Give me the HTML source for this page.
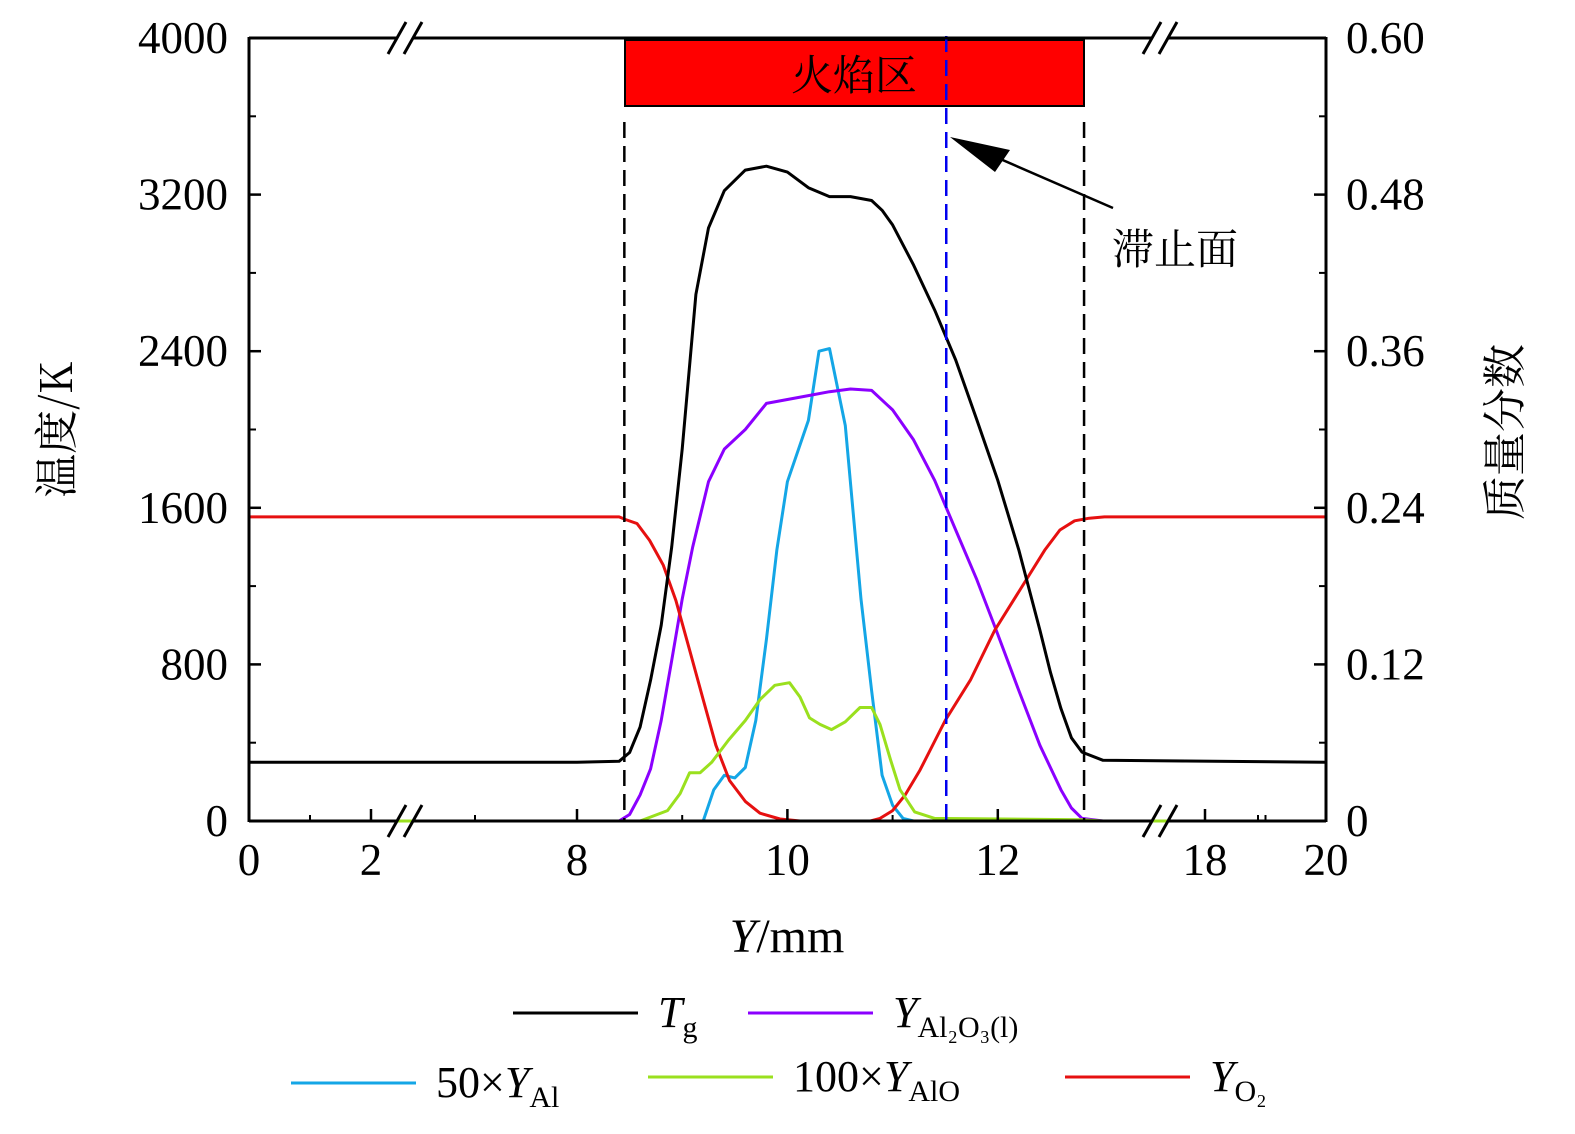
<!DOCTYPE html>
<html><head><meta charset="utf-8"><style>
body{margin:0;background:#fff;overflow:hidden;}
svg{display:block;font-family:"Liberation Serif","Noto Serif CJK SC",serif;}
</style></head><body>
<svg id="chart" width="1575" height="1134" viewBox="0 0 1575 1134">
<rect x="625" y="40" width="459" height="66" fill="#ff0000" stroke="#000" stroke-width="2"/>
<text x="854" y="90" font-size="42" text-anchor="middle" font-family="Noto Serif CJK SC,serif">火焰区</text>
<g id="marks"></g>
<g id="axes"></g>
<text x="1175" y="264" font-size="42" text-anchor="middle" font-family="Noto Serif CJK SC,serif">滞止面</text>
<line x1="1113" y1="208" x2="975" y2="148" stroke="#000" stroke-width="2.5"/>
<polygon points="950,137 1010,150 995,172" fill="#000"/>
<text x="787" y="952" font-size="48" text-anchor="middle"><tspan font-style="italic">Y</tspan>/mm</text>
<text transform="translate(72,430) rotate(-90)" font-size="44" text-anchor="middle" font-family="Noto Serif CJK SC,serif">温度/K</text>
<text transform="translate(1520,432) rotate(-90)" font-size="44" text-anchor="middle" font-family="Noto Serif CJK SC,serif">质量分数</text>
<g>
<line x1="513" y1="1013" x2="638" y2="1013" stroke="#000" stroke-width="3"/>
<text x="658" y="1027" font-size="44"><tspan font-style="italic">T</tspan><tspan font-size="30" dy="10">g</tspan></text>
<line x1="748" y1="1013" x2="873" y2="1013" stroke="#8b00ff" stroke-width="3"/>
<text x="893" y="1027" font-size="44"><tspan font-style="italic">Y</tspan><tspan font-size="30" dy="10">Al₂O₃(l)</tspan></text>
<line x1="291" y1="1083" x2="416" y2="1083" stroke="#14a6e6" stroke-width="3"/>
<text x="436" y="1097" font-size="44">50×<tspan font-style="italic">Y</tspan><tspan font-size="30" dy="10">Al</tspan></text>
<line x1="648" y1="1077" x2="773" y2="1077" stroke="#9ae01e" stroke-width="3"/>
<text x="793" y="1091" font-size="44">100×<tspan font-style="italic">Y</tspan><tspan font-size="30" dy="10">AlO</tspan></text>
<line x1="1065" y1="1077" x2="1190" y2="1077" stroke="#e61010" stroke-width="3"/>
<text x="1210" y="1091" font-size="44"><tspan font-style="italic">Y</tspan><tspan font-size="30" dy="10">O₂</tspan></text>
</g>
</svg>
<script>
const xKnots=[0,2,8,13,18,20];
const xPix=[249,371,577,1103,1205,1326];
const tempX=[0,8,8.4,8.5,8.6,8.7,8.8,8.9,9.0,9.13,9.25,9.4,9.6,9.8,10.0,10.2,10.4,10.6,10.8,10.9,11.0,11.2,11.4,11.6,11.8,12.0,12.2,12.4,12.5,12.6,12.7,12.8,13.0,20];
const tempY=[300,300,305,350,480,720,1000,1400,1900,2690,3030,3220,3325,3345,3315,3235,3190,3190,3170,3120,3045,2840,2610,2355,2050,1740,1385,975,760,575,425,352,310,300];
const al2o3X=[0,8.4,8.5,8.6,8.7,8.8,8.9,9.0,9.1,9.25,9.4,9.6,9.8,10,10.2,10.4,10.6,10.8,11.0,11.2,11.4,11.6,11.8,12.0,12.2,12.4,12.6,12.7,12.8,13,20];
const al2o3Y=[0,0,.005,.02,.04,.077,.123,.17,.21,.26,.285,.30,.32,.323,.326,.329,.331,.330,.315,.292,.261,.223,.185,.143,.10,.058,.024,.01,.002,0,0];
const alX=[0,9.2,9.3,9.4,9.5,9.6,9.7,9.8,9.9,10.0,10.2,10.3,10.4,10.55,10.7,10.8,10.9,11.0,11.1,11.2,20];
const alY=[0,0,.024,.035,.033,.041,.077,.139,.208,.26,.307,.36,.362,.303,.17,.10,.035,.012,.002,0,0];
const aloX=[0,8.6,8.86,8.98,9.07,9.17,9.28,9.44,9.6,9.74,9.88,10.02,10.12,10.21,10.31,10.42,10.55,10.69,10.80,10.88,10.98,11.07,11.21,11.4,12.8,13,20];
const aloY=[0,0,.008,.021,.037,.037,.045,.062,.077,.093,.104,.106,.095,.079,.074,.07,.076,.087,.087,.074,.047,.024,.007,.002,.001,0,0];
const o2X=[0,8.4,8.46,8.57,8.69,8.82,8.94,9.07,9.2,9.32,9.45,9.6,9.74,9.93,10.12,10.79,10.88,11.0,11.12,11.26,11.5,11.74,11.97,12.21,12.45,12.59,12.73,12.87,13.07,20];
const o2Y=[.233,.233,.231,.228,.215,.196,.169,.131,.093,.058,.031,.015,.006,.0015,0,0,.002,.008,.02,.039,.077,.108,.146,.177,.208,.223,.230,.232,.233,.233];
const leftTicks=[0,800,1600,2400,3200,4000];
const rightTicks=["0","0.12","0.24","0.36","0.48","0.60"];
const xTicks=[0,2,8,10,12,18,20];
const dashX=[8.45,12.82];
const stagX=11.51;
const NS="http://www.w3.org/2000/svg";
function sx(v){for(let i=0;i<xKnots.length-1;i++){if(v<=xKnots[i+1]||i==xKnots.length-2){const t=(v-xKnots[i])/(xKnots[i+1]-xKnots[i]);return xPix[i]+t*(xPix[i+1]-xPix[i]);}}}
function syL(v){return 821-v*783/4000;}
function syR(v){return 821-v*783/0.6;}
const marks=document.getElementById('marks'),axes=document.getElementById('axes');
function mk(tag,at,parent){const e=document.createElementNS(NS,tag);for(const k in at)e.setAttribute(k,at[k]);parent.appendChild(e);return e;}
function series(xs,ys,fy,color,name){const d=xs.map((x,i)=>(i?'L':'M')+sx(x).toFixed(1)+','+fy(ys[i]).toFixed(1)).join('');
const p=mk('path',{d:d,fill:'none',stroke:color,'stroke-width':3,'stroke-linejoin':'round'},marks);

}
series(alX,alY,syR,'#14a6e6','al-line');
series(al2o3X,al2o3Y,syR,'#8b00ff','al2o3-line');
series(o2X,o2Y,syR,'#e61010','o2-line');
series(aloX,aloY,syR,'#9ae01e','alo-line');
series(tempX,tempY,syL,'#000','temperature-line');
dashX.forEach(v=>{const l=mk('line',{x1:sx(v),x2:sx(v),y1:122,y2:821,stroke:'#000','stroke-width':2.5,'stroke-dasharray':'16,8'},marks);

});
const sl=mk('line',{x1:sx(stagX),x2:sx(stagX),y1:36,y2:821,stroke:'#0000ee','stroke-width':2.5,'stroke-dasharray':'16,8'},marks);


const b1=405,b2=1160;
[[249,b1-8],[b1+8,b2-8],[b2+8,1326]].forEach(s=>{[38,821].forEach(y=>{const l=mk('line',{x1:s[0],x2:s[1],y1:y,y2:y,stroke:'#000','stroke-width':3},axes);

});});
[249,1326].forEach(x=>{const l=mk('line',{x1:x,x2:x,y1:37,y2:822,stroke:'#000','stroke-width':3},axes);

});
[b1,b2].forEach(bx=>{[38,821].forEach(y=>{[-8,8].forEach(o=>{const l=mk('line',{x1:bx+o-9,y1:y+16,x2:bx+o+9,y2:y-16,stroke:'#000','stroke-width':3},axes);

});});});
leftTicks.forEach((v,i)=>{const y=syL(v);
const t=mk('line',{x1:249,x2:261,y1:y,y2:y,stroke:'#000','stroke-width':2.5},axes);


const t2=mk('line',{x1:1314,x2:1326,y1:y,y2:y,stroke:'#000','stroke-width':2.5},axes);


if(i<leftTicks.length-1){const ym=syL(v+400);
const m=mk('line',{x1:249,x2:256,y1:ym,y2:ym,stroke:'#000','stroke-width':2},axes);


const m2=mk('line',{x1:1319,x2:1326,y1:ym,y2:ym,stroke:'#000','stroke-width':2},axes);

}
const lt=mk('text',{x:228,y:y+15,'font-size':45,'text-anchor':'end'},axes);lt.textContent=v;


const rt=mk('text',{x:1346,y:y+15,'font-size':45},axes);rt.textContent=rightTicks[i];

});
xTicks.forEach(v=>{const x=sx(v);
const t=mk('line',{x1:x,x2:x,y1:809,y2:821,stroke:'#000','stroke-width':2.5},axes);


const lb=mk('text',{x:x,y:875,'font-size':45,'text-anchor':'middle'},axes);lb.textContent=v;

});
[1,9,11,19].forEach(v=>{const x=sx(v);
const t=mk('line',{x1:x,x2:x,y1:815,y2:821,stroke:'#000','stroke-width':2},axes);

});
[475,1258].forEach(x=>{const t=mk('line',{x1:x,x2:x,y1:815,y2:821,stroke:'#000','stroke-width':2},axes);

});
</script>
</body></html>
